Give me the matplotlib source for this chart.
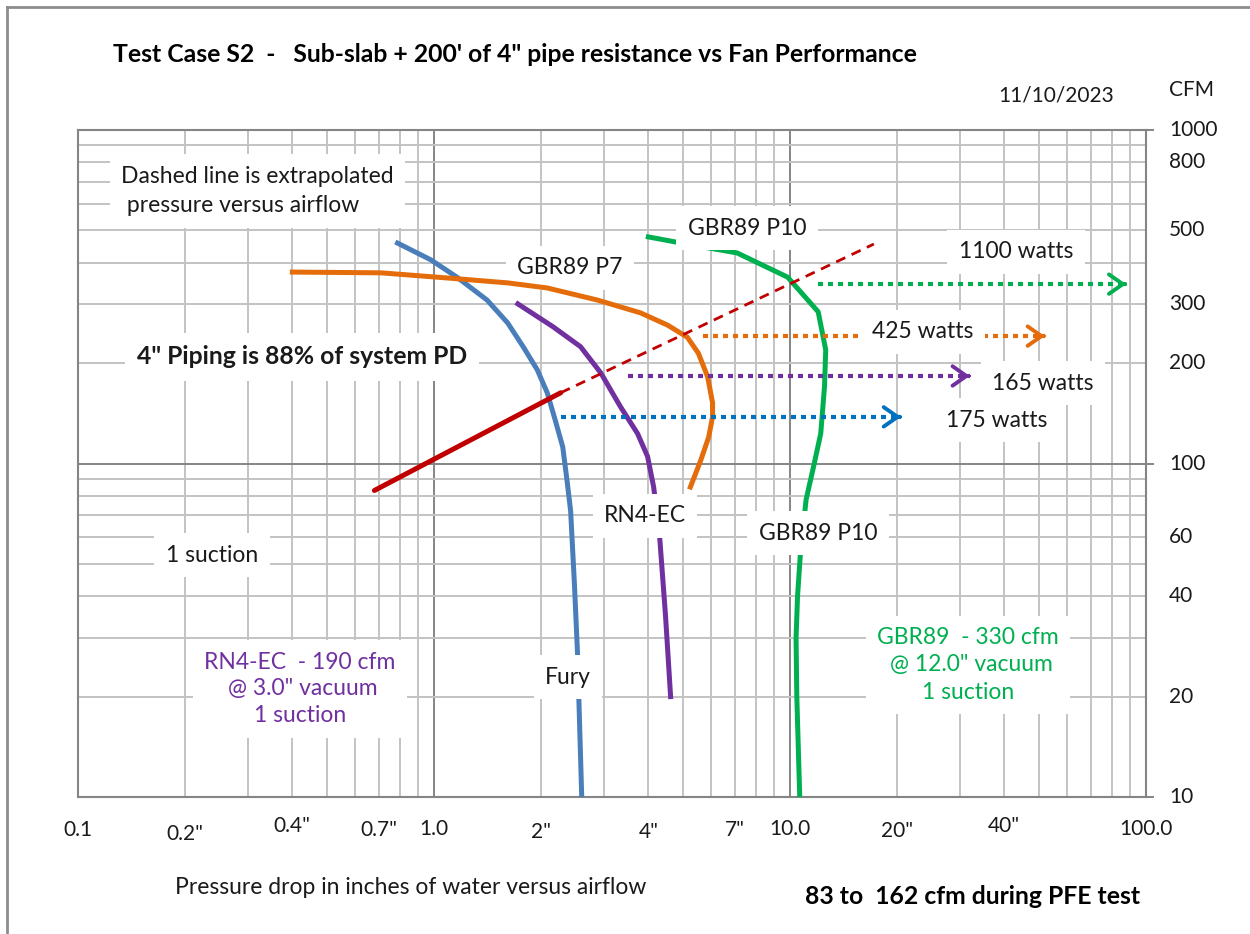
import numpy as np
import matplotlib.pyplot as plt
from matplotlib.lines import Line2D
from matplotlib.ticker import LogLocator, NullFormatter

plt.rcParams['font.family'] = ['Lato', 'DejaVu Sans']

# fan curves: pressure drop (inches of water) vs airflow (cfm)
fury_dp = [0.79, 0.98, 1.16, 1.41, 1.61, 1.78, 1.95, 2.08, 2.19, 2.30, 2.37, 2.42, 2.48, 2.53, 2.60]
fury_cfm = [458, 408, 362, 309, 264, 224, 191, 163, 135, 112, 87, 72, 43.5, 27, 10]

p7_dp = [0.40, 0.71, 1.09, 1.61, 2.08, 2.88, 3.80, 4.53, 5.15, 5.53, 5.87, 6.06, 6.06, 5.91, 5.61, 5.25]
p7_cfm = [375, 373, 360, 348, 336, 309, 283, 260, 239, 214, 182, 152, 138, 120, 102, 85]

rn4_dp = [1.72, 2.16, 2.58, 2.94, 3.34, 3.73, 3.98, 4.14, 4.30, 4.47, 4.62]
rn4_cfm = [301, 257, 224, 187, 148, 123, 105, 85, 61, 35, 20]

p10_dp = [4.0, 5.3, 7.1, 9.85, 12.0, 12.6, 12.5, 12.2, 11.65, 11.1, 10.7, 10.5, 10.4, 10.45, 10.65]
p10_cfm = [478, 452, 428, 362, 285, 219, 170, 123, 98, 78, 54, 40, 30, 20, 10]

# system (4" pipe) resistance: measured part and extrapolated part
pipe_dp = [0.68, 2.27]
pipe_cfm = [83, 163]
extrap_dp = [2.27, 17.2]
extrap_cfm = [163, 455]

# watts arrows (green, orange, purple, blue)
arrow_cfm = [345, 241, 183, 138]
arrow_start = [12.0, 5.7, 3.5, 2.27]
arrow_end = [88, 52, 32, 20.5]

xtick_vals = [0.1, 0.2, 0.4, 0.7, 1.0, 2, 4, 7, 10, 20, 40, 100]
xtick_labels = ['0.1', '0.2"', '0.4"', '0.7"', '1.0', '2"', '4"', '7"', '10.0', '20"', '40"', '100.0']
ytick_vals = [1000, 800, 500, 300, 200, 100, 60, 40, 20, 10]

BLUE = '#4A7EBB'
ORANGE = '#E46C0A'
PURPLE = '#7030A0'
GREEN = '#00B050'
RED = '#C00000'
ABLUE = '#0070C0'
INK = '#1a1a1a'

W, H = 1250, 934


def fp(x, y):
    # pixel position in the picture -> figure fraction
    return x / W, 1 - y / H


fig = plt.figure(figsize=(12.5, 9.34), dpi=100)
ax = fig.add_axes([78 / W, 1 - 797 / H, (1146 - 78) / W, (797 - 130) / H])
ax.set_xscale('log')
ax.set_yscale('log')
ax.set_xlim(0.1, 100)
ax.set_ylim(10, 1000)
ax.set_axisbelow(True)

for a in (ax.xaxis, ax.yaxis):
    a.set_minor_locator(LogLocator(base=10, subs=np.arange(2, 10), numticks=30))
    a.set_minor_formatter(NullFormatter())
    a.set_major_formatter(NullFormatter())
ax.grid(which='minor', color='#C3C3C3', lw=1.4)
ax.grid(which='major', color='#858585', lw=1.4)
ax.tick_params(axis='x', which='both', length=0)
ax.tick_params(axis='y', which='minor', length=0)
ax.tick_params(axis='y', which='major', left=False, right=True, direction='out',
               length=6, width=1.4, color='#858585')
for s in ax.spines.values():
    s.set_color('#858585')
    s.set_linewidth(1.5)

# curves
ax.plot(fury_dp, fury_cfm, color=BLUE, lw=3.6, zorder=3)
ax.plot(p7_dp, p7_cfm, color=ORANGE, lw=3.6, zorder=3)
ax.plot(rn4_dp, rn4_cfm, color=PURPLE, lw=3.6, zorder=3)
ax.plot(p10_dp, p10_cfm, color=GREEN, lw=3.6, zorder=3)
ax.plot(pipe_dp, pipe_cfm, color=RED, lw=3.6, solid_capstyle='round', zorder=3)
ax.plot(extrap_dp, extrap_cfm, color=RED, lw=2, dashes=(3.6, 2.5), zorder=3)

for c, y, x0, x1 in zip([GREEN, ORANGE, PURPLE, ABLUE], arrow_cfm, arrow_start, arrow_end):
    ax.plot([x0, x1], [y, y], color=c, lw=3, linestyle=(0, (1.2, 1.2)), zorder=3)
    ax.annotate('', xy=(x1, y), xytext=(x1 / 1.01, y),
                arrowprops=dict(arrowstyle='->,head_length=0.5,head_width=0.35',
                                color=c, lw=2.8, mutation_scale=20,
                                shrinkA=0, shrinkB=0), zorder=3)

box = dict(boxstyle='square,pad=0.5', fc='white', ec='none')


def label(x, y, s, z=5, **kw):
    kw.setdefault('fontsize', 16.5)
    kw.setdefault('ha', 'center')
    kw.setdefault('va', 'center')
    kw.setdefault('color', INK)
    ax.text(*fp(x, y), s, transform=fig.transFigure, bbox=box, zorder=z, **kw)


label(121, 191, 'Dashed line is extrapolated\n pressure versus airflow', z=1.5,
      ha='left', linespacing=1.5)
label(302, 357, '4" Piping is 88% of system PD', z=1.5, fontsize=17.8, fontweight='bold')
label(570, 268, 'GBR89 P7', z=1.5)
label(747, 228, 'GBR89 P10')
label(1016, 252, '1100 watts', z=1.5)
label(923, 332, '425 watts')
label(1043, 383, '165 watts', z=1.5)
label(997, 420, '175 watts', z=1.5)
label(645, 516, 'RN4-EC')
label(818, 533, 'GBR89 P10')
label(212, 555, '1 suction', z=1.5)
label(568, 677, 'Fury')
label(300, 689, 'RN4-EC  - 190 cfm\n @ 3.0" vacuum\n1 suction', z=1.5,
      color=PURPLE, linespacing=1.33)
label(968, 665, 'GBR89  - 330 cfm\n @ 12.0" vacuum\n1 suction', z=1.5,
      color=GREEN, linespacing=1.36)

# axis tick labels
x_label_y = [830, 834, 826, 830, 829, 832, 832, 830, 829, 831, 826, 829]
for v, t, yp in zip(xtick_vals, xtick_labels, x_label_y):
    ax.text(v, (797 - yp) / 667, t, transform=ax.get_xaxis_transform(),
            ha='center', va='center', fontsize=15, color=INK)
for v in ytick_vals:
    ax.text((1169 - 78) / 1068, v, str(v), transform=ax.get_yaxis_transform(),
            ha='left', va='center', fontsize=15, color=INK)

fig.text(*fp(113, 55), 'Test Case S2  -   Sub-slab + 200\' of 4" pipe resistance vs Fan Performance',
         fontsize=17.8, fontweight='bold', ha='left', va='center')
fig.text(*fp(1056, 95), '11/10/2023', fontsize=15, ha='center', va='center', color=INK)
fig.text(*fp(1191, 90), 'CFM', fontsize=15, ha='center', va='center', color=INK)
fig.text(*fp(411, 888), 'Pressure drop in inches of water versus airflow', fontsize=16.5,
         ha='center', va='center', color=INK)
fig.text(*fp(973, 896), '83 to  162 cfm during PFE test', fontsize=17.8, fontweight='bold',
         ha='center', va='center')

# chart frame (only top and left edges are in view)
fig.add_artist(Line2D([7 / W, 1], [1 - 7 / H, 1 - 7 / H], transform=fig.transFigure,
                      color='#8C8C8C', lw=2))
fig.add_artist(Line2D([7 / W, 7 / W], [0, 1 - 7 / H], transform=fig.transFigure,
                      color='#8C8C8C', lw=2))

fig.savefig('out.png', dpi=100)
